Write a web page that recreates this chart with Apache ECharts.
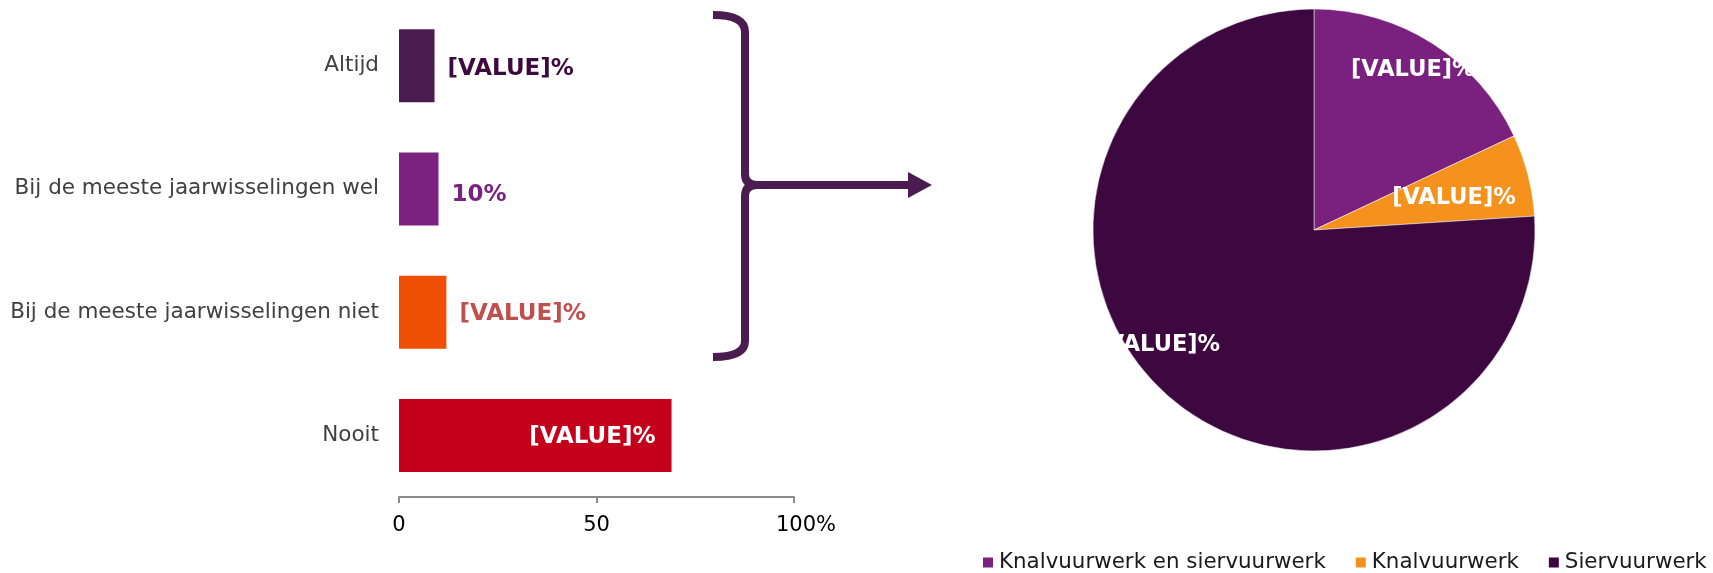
<!DOCTYPE html>
<html>
<head>
<meta charset="utf-8">
<script src="https://cdn.jsdelivr.net/npm/echarts@6/dist/echarts.min.js"></script>
<style>
html,body{margin:0;padding:0;background:#fff;}
#c{width:1713px;height:573px;}
</style>
</head>
<body>
<div id="c"></div>
<script>
// ---- data ----
var barCategories = ['Altijd', 'Bij de meeste jaarwisselingen wel', 'Bij de meeste jaarwisselingen niet', 'Nooit'];
var barValues = [9, 10, 12, 69];
var barLabels = ['[VALUE]%', '10%', '[VALUE]%', '[VALUE]%'];
var xTicks = [0, 50, 100];

var pieNames = ['Knalvuurwerk en siervuurwerk', 'Knalvuurwerk', 'Siervuurwerk'];
var pieValues = [18, 6, 76];
var pieLabels = ['[VALUE]%', '[VALUE]%', '[VALUE]%'];

// ---- styles ----
var FONT = 'DejaVu Sans';
var barColors = ['#4B1C50', '#7B2180', '#F05006', '#C4001A'];
var barLabelColors = ['#3D0A40', '#7B2180', '#C0504D', '#FFFFFF'];
var barLabelOffsets = [[0, 3], [0, 6], [0, 2], [0, 2]];
var pieColors = ['#7A2180', '#F5921E', '#3D0740'];
var braceColor = '#4B1C50';

var chart = echarts.init(document.getElementById('c'), null, {renderer: 'canvas'});

var barData = barValues.map(function (v, i) {
  var inside = i === 3;
  return {
    value: v,
    itemStyle: {color: barColors[i]},
    label: {
      show: true,
      position: inside ? 'insideRight' : 'right',
      distance: inside ? 16 : 13,
      offset: barLabelOffsets[i],
      color: barLabelColors[i],
      fontWeight: 'bold',
      fontSize: 23,
      fontFamily: FONT,
      formatter: function () { return barLabels[i]; }
    }
  };
});

var pieOffsets = [[38, -64], [30, -4], [-78, 32]];
var pieData = pieValues.map(function (v, i) {
  return {name: pieNames[i], value: v, itemStyle: {color: pieColors[i]}};
});

var braceStyle = {stroke: braceColor, lineWidth: 8, fill: null};
function seg(x1, y1, x2, y2) {
  return {type: 'line', silent: true, shape: {x1: x1, y1: y1, x2: x2, y2: y2}, style: braceStyle};
}
function curve(x1, y1, cx, cy, x2, y2) {
  return {type: 'bezierCurve', silent: true, shape: {x1: x1, y1: y1, cpx1: cx, cpy1: cy, x2: x2, y2: y2}, style: braceStyle};
}

var option = {
  animation: false,
  backgroundColor: '#fff',
  grid: {left: 399, right: 919, top: 4, bottom: 76, containLabel: false},
  xAxis: {
    type: 'value', min: 0, max: 100, interval: 50,
    axisLine: {show: true, lineStyle: {color: '#8C8C8C', width: 2}},
    axisTick: {show: true, length: 6, lineStyle: {color: '#8C8C8C', width: 2}},
    splitLine: {show: false},
    axisLabel: {
      color: '#000', fontSize: 21, fontFamily: FONT, margin: 18,
      formatter: function (v) { return v === 100 ? '{p|' + v + '%}' : String(v); },
      rich: {p: {fontSize: 21, fontFamily: FONT, color: '#000', padding: [0, 0, 0, 24]}}
    }
  },
  yAxis: {
    type: 'category', data: barCategories, inverse: true,
    axisLine: {show: false}, axisTick: {show: false},
    axisLabel: {color: '#404040', fontSize: 21.5, fontFamily: FONT, margin: 20}
  },
  legend: {
    data: pieNames, left: 981, top: 552, icon: 'rect', padding: 0,
    width: 732,
    itemWidth: 12, itemHeight: 12, itemGap: 28,
    textStyle: {color: '#1A1A1A', fontSize: 21.4, fontFamily: FONT}
  },
  series: [
    {
      type: 'bar', data: barData, barWidth: 73, silent: true
    },
    {
      type: 'pie', center: [1314, 230], radius: 221, startAngle: 90, clockwise: true,
      data: pieData, silent: true,
      itemStyle: {borderColor: '#fff', borderWidth: 0.5},
      label: {
        show: true, position: 'inside', color: '#fff', fontWeight: 'bold',
        fontSize: 22.5, fontFamily: FONT,
        formatter: function (p) { return pieLabels[p.dataIndex]; }
      },
      labelLine: {show: false},
      labelLayout: function (p) {
        var o = pieOffsets[p.dataIndex];
        return {dx: o[0], dy: o[1]};
      }
    }
  ],
  graphic: [
    curve(713, 15, 745, 15, 745, 32),
    seg(745, 31, 745, 175),
    curve(745, 174, 745, 185, 757, 185),
    curve(757, 185, 745, 185, 745, 196),
    seg(745, 195, 745, 342),
    curve(745, 341, 745, 357, 713, 357),
    seg(750, 185, 910, 185),
    {
      type: 'polygon', silent: true,
      shape: {points: [[908, 172], [932, 185], [908, 198]]},
      style: {fill: braceColor}
    }
  ]
};
chart.setOption(option);
</script>
</body>
</html>
